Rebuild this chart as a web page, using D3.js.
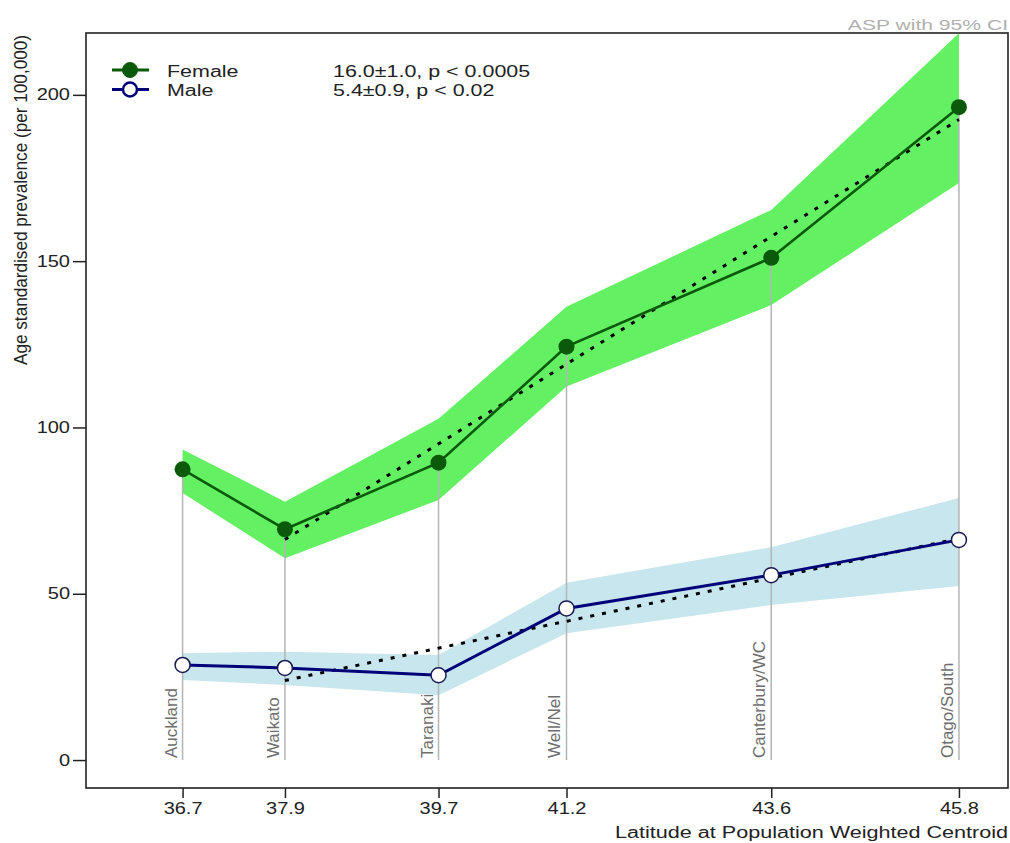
<!DOCTYPE html>
<html>
<head>
<meta charset="utf-8">
<script src="https://cdn.jsdelivr.net/npm/d3@7"></script>
<style>
  html, body { margin: 0; padding: 0; background: #fff; }
  svg { display: block; font-family: "Liberation Sans", Arial, sans-serif; }
</style>
</head>
<body>
<svg id="chart" width="1010" height="843"></svg>
<script>
// Regions ordered by latitude of their population-weighted centroid
const regions   = ["Auckland", "Waikato", "Taranaki", "Well/Nel", "Canterbury/WC", "Otago/South"];
const latitude  = [36.7, 37.9, 39.7, 41.2, 43.6, 45.8];

// Age standardised prevalence per 100,000 with 95% confidence limits
const femaleASP = [87.4, 69.4, 89.4, 124.3, 151.0, 196.3];
const femaleLo  = [80.3, 60.7, 78.2, 112.3, 136.8, 173.5];
const femaleHi  = [93.4, 77.7, 102.6, 136.3, 165.4, 218.5];
const maleASP   = [28.6, 27.7, 25.5, 45.6, 55.6, 66.2];
const maleLo    = [24.1, 22.6, 19.5, 38.1, 46.6, 52.3];
const maleHi    = [32.1, 32.6, 31.6, 53.3, 64.0, 78.8];

const yTicks     = [0, 50, 100, 150, 200];
const seriesName = ["Female", "Male"];
const trendText  = ["16.0\u00B11.0, p < 0.0005", "5.4\u00B10.9, p < 0.02"];

const svg = d3.select("#chart");
const plot = { left: 86, right: 1008, top: 33, bottom: 788 };

const x = d3.scaleLinear().domain([35.568, 46.375]).range([plot.left, plot.right]);
const y = d3.scaleLinear().domain([-8.4, 218.6]).range([plot.bottom, plot.top]);

// widen horizontal text a little (the chart's lettering is broad)
function stretch(sel, k) {
  sel.each(function () {
    const w = this.getComputedTextLength();
    d3.select(this).attr("textLength", w * k).attr("lengthAdjust", "spacingAndGlyphs");
  });
}

svg.append("clipPath").attr("id", "plotClip")
  .append("rect")
  .attr("x", plot.left).attr("y", plot.top)
  .attr("width", plot.right - plot.left).attr("height", plot.bottom - plot.top);

const rows = regions.map((r, i) => ({
  region: r, lat: latitude[i],
  f: femaleASP[i], fLo: femaleLo[i], fHi: femaleHi[i],
  m: maleASP[i], mLo: maleLo[i], mHi: maleHi[i]
}));

const g = svg.append("g").attr("clip-path", "url(#plotClip)");

// confidence bands
const areaF = d3.area().x(d => x(d.lat)).y0(d => y(d.fLo)).y1(d => y(d.fHi));
const areaM = d3.area().x(d => x(d.lat)).y0(d => y(d.mLo)).y1(d => y(d.mHi));
g.append("path").datum(rows).attr("d", areaF).attr("fill", "#63f063");
g.append("path").datum(rows).attr("d", areaM).attr("fill", "#c7e6ed");

// drop lines from each female estimate down to zero
g.selectAll("line.drop").data(rows).join("line")
  .attr("class", "drop")
  .attr("x1", d => x(d.lat)).attr("x2", d => x(d.lat))
  .attr("y1", d => y(d.f)).attr("y2", y(0))
  .attr("stroke", "#b4b4b4").attr("stroke-width", 1.5);

// region names along the drop lines
g.selectAll("text.region").data(rows).join("text")
  .attr("class", "region")
  .attr("transform", d => `translate(${x(d.lat) - 6},${y(0) - 2}) rotate(-90)`)
  .attr("font-size", 17).attr("fill", "#6e6e6e")
  .text(d => d.region);

// least-squares trend over Waikato .. Otago/South
function fitLine(xs, ys) {
  const mx = d3.mean(xs), my = d3.mean(ys);
  const sxy = d3.sum(xs, (v, i) => (v - mx) * (ys[i] - my));
  const sxx = d3.sum(xs, v => (v - mx) * (v - mx));
  const b = sxy / sxx;
  return v => my + b * (v - mx);
}
const trendRows = rows.slice(1);
const trendLat = trendRows.map(d => d.lat);
[["f", femaleASP], ["m", maleASP]].forEach(([key, vals]) => {
  const f = fitLine(trendLat, vals.slice(1));
  const ends = [d3.min(trendLat), d3.max(trendLat)];
  g.append("path")
    .attr("d", d3.line().x(v => x(v)).y(v => y(f(v)))(ends))
    .attr("fill", "none").attr("stroke", "#000").attr("stroke-width", 3)
    .attr("stroke-dasharray", "4 8");
});

// series lines and markers
const lineF = d3.line().x(d => x(d.lat)).y(d => y(d.f));
const lineM = d3.line().x(d => x(d.lat)).y(d => y(d.m));
g.append("path").datum(rows).attr("d", lineF)
  .attr("fill", "none").attr("stroke", "#0b5a0b").attr("stroke-width", 2.6);
g.append("path").datum(rows).attr("d", lineM)
  .attr("fill", "none").attr("stroke", "#000078").attr("stroke-width", 3);

g.selectAll("circle.f").data(rows).join("circle")
  .attr("class", "f")
  .attr("cx", d => x(d.lat)).attr("cy", d => y(d.f)).attr("r", 8)
  .attr("fill", "#0b5a0b");
g.selectAll("circle.m").data(rows).join("circle")
  .attr("class", "m")
  .attr("cx", d => x(d.lat)).attr("cy", d => y(d.m)).attr("r", 7.5)
  .attr("fill", "#fff").attr("stroke", "#1a1a50").attr("stroke-width", 1.5);

// axes
const yAxis = svg.append("g").attr("transform", `translate(${plot.left},0)`)
  .call(d3.axisLeft(y).tickValues(yTicks).tickSize(13).tickSizeOuter(0).tickPadding(3));
const xAxis = svg.append("g").attr("transform", `translate(0,${plot.bottom})`)
  .call(d3.axisBottom(x).tickValues(latitude).tickFormat(d3.format(".1f"))
    .tickSize(10).tickSizeOuter(0).tickPadding(5));
[yAxis, xAxis].forEach(a => {
  a.select(".domain").remove();
  a.selectAll(".tick line").attr("stroke", "#222").attr("stroke-width", 1.5);
  a.selectAll(".tick text").attr("font-size", 16).attr("fill", "#222")
    .attr("font-family", "\"Liberation Sans\", Arial, sans-serif");
});
stretch(yAxis.selectAll(".tick text"), 1.25);
stretch(xAxis.selectAll(".tick text"), 1.25);

// frame
svg.append("rect")
  .attr("x", plot.left).attr("y", plot.top)
  .attr("width", plot.right - plot.left).attr("height", plot.bottom - plot.top)
  .attr("fill", "none").attr("stroke", "#222").attr("stroke-width", 1.6);

// axis titles
svg.append("text")
  .attr("transform", `translate(27,${(35 + 365) / 2}) rotate(-90)`)
  .attr("text-anchor", "middle").attr("font-size", 18).attr("fill", "#222")
  .attr("textLength", 330).attr("lengthAdjust", "spacingAndGlyphs")
  .text("Age standardised prevalence (per 100,000)");
svg.append("text")
  .attr("x", 615).attr("y", 837.5).attr("font-size", 16).attr("fill", "#222")
  .attr("textLength", 393).attr("lengthAdjust", "spacingAndGlyphs")
  .text("Latitude at Population Weighted Centroid");

// corner caption
const cap = svg.append("text")
  .attr("x", 1008).attr("y", 29.5).attr("text-anchor", "end")
  .attr("font-size", 15.5).attr("fill", "#b0b0b0")
  .text("ASP with 95% CI");
stretch(cap, 1.36);

// legend
const legend = svg.append("g");
const legendY = [70, 89.5];
seriesName.forEach((name, i) => {
  const ly = legendY[i];
  legend.append("line").attr("x1", 112).attr("x2", 149).attr("y1", ly).attr("y2", ly)
    .attr("stroke", i === 0 ? "#0b5a0b" : "#000078").attr("stroke-width", 3);
  legend.append("circle").attr("cx", 130).attr("cy", ly).attr("r", i === 0 ? 7.5 : 7)
    .attr("fill", i === 0 ? "#0b5a0b" : "#fff")
    .attr("stroke", i === 0 ? "#0b5a0b" : "#000078").attr("stroke-width", i === 0 ? 1 : 2.5);
  const t1 = legend.append("text").attr("x", 167).attr("y", ly + 6.5)
    .attr("font-size", 16).attr("fill", "#222").text(name);
  const t2 = legend.append("text").attr("x", 333).attr("y", ly + 6.5)
    .attr("font-size", 16).attr("fill", "#222").text(trendText[i]);
  stretch(t1, 1.34);
  stretch(t2, 1.34);
});
</script>
</body>
</html>
